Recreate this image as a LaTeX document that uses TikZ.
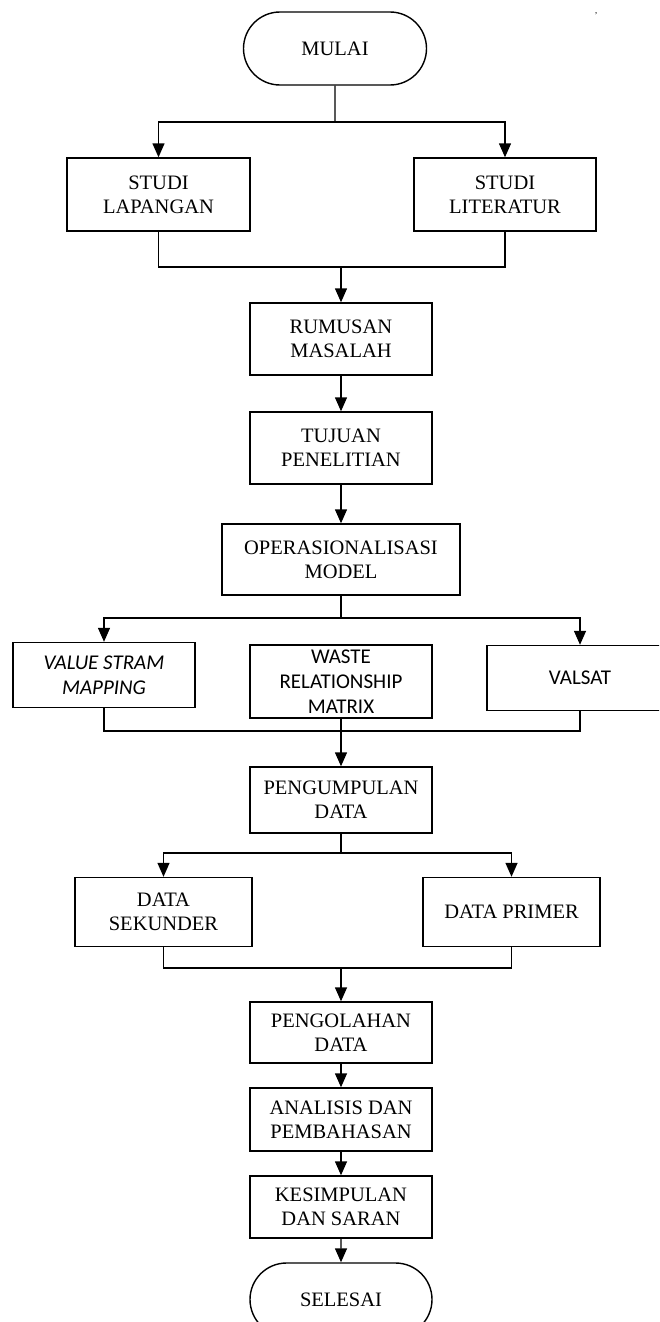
\documentclass[tikz,border=0pt]{standalone}
\usepackage{fontspec}
\setmainfont{Liberation Serif}
\newfontfamily\calib{Carlito}
\usetikzlibrary{arrows.meta,shapes.misc}
\begin{document}
\begin{tikzpicture}[x=1pt,y=-1pt,
  box/.style={draw,line width=1.4pt,inner sep=0pt,align=center,font=\fontsize{20.5}{24}\selectfont},
  pill/.style={box,rounded rectangle},
  sbox/.style={box,font=\calib\fontsize{21}{25}\selectfont},
  arr/.style={-{Triangle[length=14pt,width=12pt]},line width=1.4pt},
  ln/.style={line width=1.4pt}]
\useasboundingbox (0,0) rectangle (659,1322);
\clip (0,0) rectangle (659,1322);
% nodes
\node[pill,minimum width=183pt,minimum height=73pt] (mulai) at (335,48.5) {MULAI};
\node[box,minimum width=183pt,minimum height=73pt] (lap) at (158.5,194.5) {STUDI\\LAPANGAN};
\node[box,minimum width=182pt,minimum height=73pt] (lit) at (505,194.5) {STUDI\\LITERATUR};
\node[box,minimum width=182pt,minimum height=72pt] (rum) at (341,339) {RUMUSAN\\MASALAH};
\node[box,minimum width=182pt,minimum height=72pt] (tuj) at (341,448) {TUJUAN\\PENELITIAN};
\node[box,minimum width=238pt,minimum height=71pt] (ops) at (341,559.5) {OPERASIONALISASI\\MODEL};
\node[sbox,minimum width=182pt,minimum height=65pt] (vsm) at (104,675) {\itshape VALUE STRAM\\\itshape MAPPING};
\node[sbox,minimum width=182pt,minimum height=73pt] (wrm) at (341,681.5) {WASTE\\RELATIONSHIP\\MATRIX};
\node[sbox,minimum width=186pt,minimum height=65pt] (val) at (580,678) {VALSAT};
\node[box,minimum width=182pt,minimum height=66pt] (pgd) at (341,800) {PENGUMPULAN\\DATA};
\node[box,minimum width=177pt,minimum height=69pt] (sek) at (163.5,912) {DATA\\SEKUNDER};
\node[box,minimum width=177pt,minimum height=69pt] (pri) at (511.5,912) {DATA PRIMER};
\node[box,minimum width=182pt,minimum height=61pt] (pgl) at (341,1032.5) {PENGOLAHAN\\DATA};
\node[box,minimum width=182pt,minimum height=63pt] (ana) at (341,1119.5) {ANALISIS DAN\\PEMBAHASAN};
\node[box,minimum width=182pt,minimum height=62pt] (kes) at (341,1207) {KESIMPULAN\\DAN SARAN};
\node[pill,minimum width=182pt,minimum height=73pt] (sel) at (341,1299.5) {SELESAI};
\node[inner sep=0pt,font=\fontsize{9}{9}\selectfont] (dot) at (596,16) {'};
% coordinates
\coordinate (b1) at (335,122);
\coordinate (m1) at (341,267);
\coordinate (b2) at (341,618);
\coordinate (m2) at (341,731);
\coordinate (b3) at (341,853);
\coordinate (m3) at (341,968);
% connectors
\draw[ln] (mulai) -- (b1);
\draw[arr] (b1) -| (lap.north);
\draw[arr] (b1) -| (lit.north);
\draw[ln] (lap.south) |- (m1) -| (lit.south);
\draw[arr] (m1) -- (rum);
\draw[arr] (rum) -- (tuj);
\draw[arr] (tuj) -- (ops);
\draw[ln] (ops) -- (b2);
\draw[arr] (b2) -| (vsm.north);
\draw[arr] (b2) -| (val.north);
\draw[ln] (vsm.south) |- (m2) -| (val.south);
\draw[arr] (wrm) -- (pgd);
\draw[ln] (pgd) -- (b3);
\draw[arr] (b3) -| (sek.north);
\draw[arr] (b3) -| (pri.north);
\draw[ln] (sek.south) |- (m3) -| (pri.south);
\draw[arr] (m3) -- (pgl);
\draw[arr] (pgl) -- (ana);
\draw[arr] (ana) -- (kes);
\draw[arr] (kes) -- (sel);
\end{tikzpicture}
\end{document}
